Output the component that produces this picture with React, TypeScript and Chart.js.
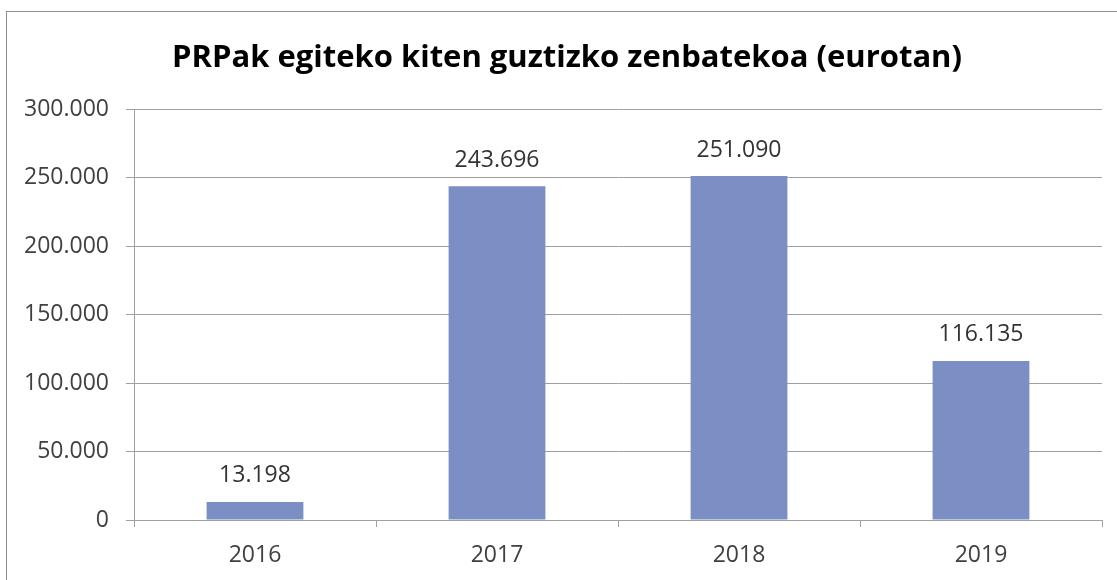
import React, { useEffect, useRef } from "react";
import { Chart, registerables } from "chart.js";

Chart.register(...registerables);

const categories = ["2016", "2017", "2018", "2019"];
const values = [13198, 243696, 251090, 116135];
const yMin = 0;
const yMax = 300000;
const yStep = 50000;
const titleText = "PRPak egiteko kiten guztizko zenbatekoa (eurotan)";

const fmt = (n: number) =>
  Math.round(n)
    .toString()
    .replace(/\B(?=(\d{3})+(?!\d))/g, ".");

const FONT = "'Open Sans', 'DejaVu Sans', sans-serif";

const titlePlugin = {
  id: "customTitle",
  afterDraw(chart: any) {
    const ctx = chart.ctx;
    ctx.save();
    ctx.font = `bold 31px ${FONT}`;
    ctx.fillStyle = "#000000";
    ctx.textAlign = "center";
    ctx.textBaseline = "middle";
    ctx.fillText(titleText, 560, 46);
    ctx.restore();
  },
};

const dataLabels = {
  id: "dataLabels",
  afterDatasetsDraw(chart: any) {
    const ctx = chart.ctx;
    const meta = chart.getDatasetMeta(0);
    ctx.save();
    ctx.font = `23px ${FONT}`;
    ctx.fillStyle = "#333333";
    ctx.textAlign = "center";
    ctx.textBaseline = "middle";
    meta.data.forEach((bar: any, i: number) => {
      const v = chart.data.datasets[0].data[i] as number;
      ctx.fillText(fmt(v), bar.x, bar.y - 26);
    });
    ctx.restore();
  },
};

export default function App() {
  const ref = useRef<HTMLCanvasElement | null>(null);
  useEffect(() => {
    if (!ref.current) return;
    const chart = new Chart(ref.current, {
      type: "bar",
      data: {
        labels: categories,
        datasets: [
          {
            data: values,
            backgroundColor: "#7c8fc4",
            barPercentage: 0.4,
            categoryPercentage: 1,
          },
        ],
      },
      options: {
        responsive: false,
        animation: false,
        layout: { padding: { left: 0, right: 15, top: 97, bottom: 0 } },
        plugins: {
          legend: { display: false },
          tooltip: { enabled: false },
          title: { display: false },
        },
        scales: {
          x: {
            offset: true,
            grid: {
              display: true,
              drawOnChartArea: false,
              tickLength: 7,
              color: "#a0a0a0",
              offset: true,
            },
            border: { color: "#a0a0a0" },
            ticks: {
              color: "#404040",
              font: { family: FONT, size: 23 },
              padding: 15,
            },
            afterFit: (s: any) => {
              s.height = 60;
            },
          },
          y: {
            min: yMin,
            max: yMax,
            grid: { color: "#a0a0a0", tickLength: 8 },
            border: { color: "#a0a0a0" },
            ticks: {
              stepSize: yStep,
              color: "#404040",
              font: { family: FONT, size: 23 },
              padding: 17,
              callback: (v: any) => fmt(Number(v)),
            },
            afterFit: (s: any) => {
              s.width = 127;
            },
          },
        },
      },
      plugins: [dataLabels, titlePlugin],
    });
    return () => chart.destroy();
  }, []);

  return (
    <div
      style={{
        position: "fixed",
        left: 6,
        top: 11,
        right: 0,
        bottom: 0,
        borderTop: "1px solid #8c8c8c",
        borderLeft: "1px solid #8c8c8c",
        background: "#ffffff",
        overflow: "hidden",
      }}
    >
      <canvas ref={ref} width={1110} height={568} style={{ display: "block" }} />
    </div>
  );
}
